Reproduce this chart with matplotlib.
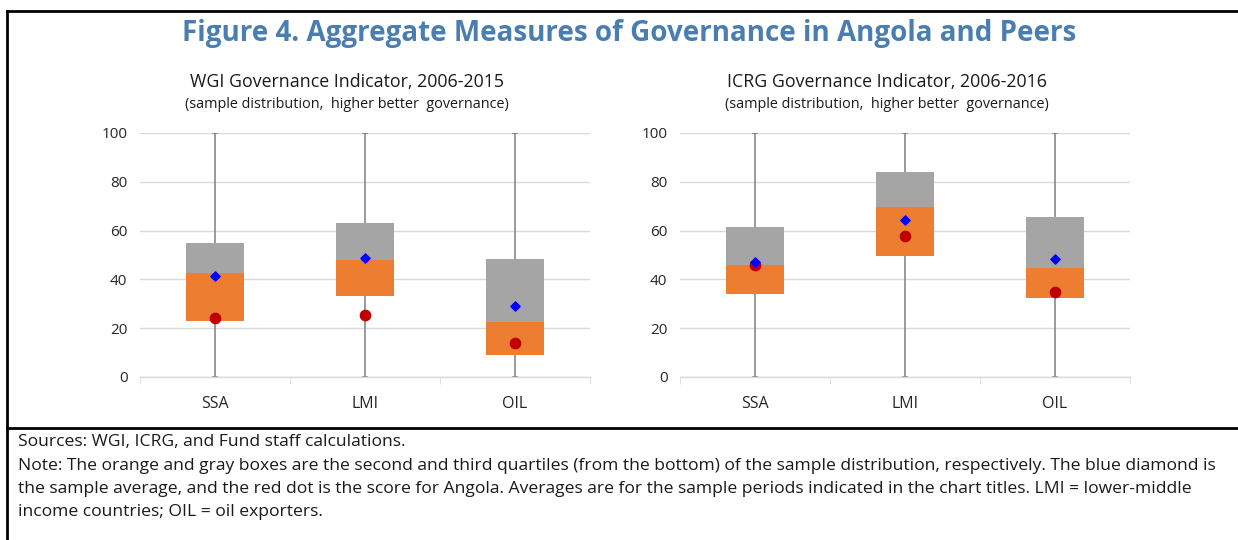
import matplotlib
matplotlib.use("Agg")
import matplotlib.pyplot as plt
from matplotlib.lines import Line2D

plt.rcParams['font.family'] = ['Open Sans', 'DejaVu Sans']

categories = ['SSA', 'LMI', 'OIL']

# WGI governance indicator, 2006-2015
wgi_low = [0, 0, 0]
wgi_q1 = [23, 33.2, 9]
wgi_median = [42.5, 48, 22.7]
wgi_q3 = [54.8, 63.1, 48.4]
wgi_high = [100, 100, 100]
wgi_mean = [41.4, 48.8, 29.1]
wgi_angola = [24.2, 25.4, 13.8]

# ICRG governance indicator, 2006-2016
icrg_low = [0, 0, 0]
icrg_q1 = [34, 49.6, 32.3]
icrg_median = [45.8, 69.5, 44.5]
icrg_q3 = [61.4, 83.9, 65.5]
icrg_high = [100, 100, 100]
icrg_mean = [47, 64.3, 48.3]
icrg_angola = [45.8, 57.9, 34.9]

ORANGE = '#ED7D31'
GRAY = '#A5A5A5'


def draw_panel(ax, low, q1, median, q3, high, mean, angola, title, subtitle):
    x = list(range(len(categories)))

    # whiskers and caps
    ax.vlines(x, low, high, color='#7F7F7F', linewidth=1.1, zorder=2)
    ax.scatter(x, low, marker='_', s=25, color='#7F7F7F', linewidths=1.1, zorder=2)
    ax.scatter(x, high, marker='_', s=25, color='#7F7F7F', linewidths=1.1, zorder=2)

    # second and third quartile boxes
    h_lower = [m - a for m, a in zip(median, q1)]
    h_upper = [b - m for b, m in zip(q3, median)]
    ax.bar(x, h_lower, bottom=q1, width=0.39, color=ORANGE, zorder=3)
    ax.bar(x, h_upper, bottom=median, width=0.39, color=GRAY, zorder=3)

    ax.scatter(x, mean, marker='D', s=22, color='#0000FF', zorder=5)
    ax.scatter(x, angola, marker='o', s=55, color='#C00000', zorder=4)

    ax.set_xlim(-0.5, 2.5)
    ax.set_ylim(0, 100)
    ax.set_yticks(range(0, 101, 20))
    ax.yaxis.grid(True, color='#D9D9D9', linewidth=1.0)
    ax.set_axisbelow(True)

    ax.set_xticks(x)
    ax.set_xticklabels(categories)
    ax.set_xticks([-0.5, 0.5, 1.5, 2.5], minor=True)
    ax.tick_params(axis='x', which='major', length=0, pad=14, labelsize=11.5, colors='#262626')
    ax.tick_params(axis='x', which='minor', length=5, color='#D9D9D9', direction='out')
    ax.tick_params(axis='y', length=0, pad=9, labelsize=11, colors='#262626')

    for side in ['top', 'right', 'left']:
        ax.spines[side].set_visible(False)
    ax.spines['bottom'].set_color('#D9D9D9')
    ax.spines['bottom'].set_linewidth(1.0)

    # titles sit a little left of the plot centre
    ax.text(0.46, 1.21, title, transform=ax.transAxes, ha='center', va='center',
            fontsize=12.8, color='#1A1A1A')
    ax.text(0.46, 1.115, subtitle, transform=ax.transAxes, ha='center', va='center',
            fontsize=10.4, color='#1A1A1A')


fig = plt.figure(figsize=(12.38, 5.40), dpi=100)

ax1 = fig.add_axes([140 / 1238, 1 - 377 / 540, 450 / 1238, 244 / 540])
ax2 = fig.add_axes([680 / 1238, 1 - 377 / 540, 450 / 1238, 244 / 540])

draw_panel(ax1, wgi_low, wgi_q1, wgi_median, wgi_q3, wgi_high, wgi_mean, wgi_angola,
           'WGI Governance Indicator, 2006-2015',
           '(sample distribution,  higher better  governance)')
draw_panel(ax2, icrg_low, icrg_q1, icrg_median, icrg_q3, icrg_high, icrg_mean, icrg_angola,
           'ICRG Governance Indicator, 2006-2016',
           '(sample distribution,  higher better  governance)')

fig.text(629 / 1238, 1 - 34 / 540, 'Figure 4. Aggregate Measures of Governance in Angola and Peers',
         ha='center', va='center', fontsize=20, fontweight='bold', color='#4A7EB0')

# frame lines
lw = 2.0
fig.add_artist(Line2D([7 / 1238, 1], [1 - 11 / 540, 1 - 11 / 540], color='black', linewidth=lw))
fig.add_artist(Line2D([7 / 1238, 1], [1 - 428 / 540, 1 - 428 / 540], color='black', linewidth=lw))
fig.add_artist(Line2D([7 / 1238, 7 / 1238], [0, 1 - 11 / 540], color='black', linewidth=lw))

notes = [
    'Sources: WGI, ICRG, and Fund staff calculations.',
    'Note: The orange and gray boxes are the second and third quartiles (from the bottom) of the sample distribution, respectively. The blue diamond is',
    'the sample average, and the red dot is the score for Angola. Averages are for the sample periods indicated in the chart titles. LMI = lower-middle',
    'income countries; OIL = oil exporters.',
]
for i, line in enumerate(notes):
    fig.text(18 / 1238, 1 - (442 + i * 23.5) / 540, line, ha='left', va='center',
             fontsize=12.6, color='#1A1A1A')

fig.savefig('out.png', dpi=100)
